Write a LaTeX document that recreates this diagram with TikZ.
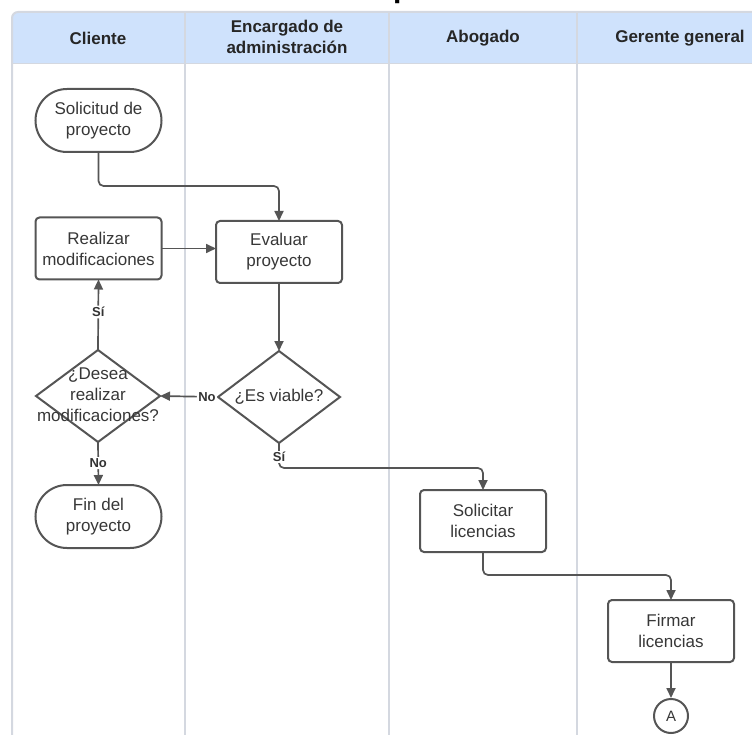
\documentclass[tikz,border=0pt]{standalone}
\usepackage{fontspec}
\setmainfont{Liberation Sans}
\usetikzlibrary{arrows.meta,shapes.geometric,shapes.misc}
\definecolor{headfill}{RGB}{207,226,252}
\definecolor{laneline}{RGB}{212,216,224}
\definecolor{ink}{RGB}{85,85,85}
\definecolor{txt}{RGB}{55,55,55}

\begin{document}
\begin{tikzpicture}[x=1pt,y=-1pt,
  every node/.style={font=\fontsize{17}{21}\selectfont, text=txt},
  procbox/.style={draw=ink, line width=2pt, rounded corners=4pt,
    minimum width=126pt, minimum height=62pt, align=center,
    inner sep=0pt, outer sep=0pt},
  termbox/.style={rounded rectangle, draw=ink, line width=2pt,
    minimum width=126pt, minimum height=63pt, align=center,
    inner sep=0pt, outer sep=0pt},
  decbox/.style={diamond, draw=ink, line width=2pt, inner sep=0pt, outer sep=0pt},
  conn/.style={draw=ink, line width=1.7pt, rounded corners=5pt,
    -{Triangle[length=10pt,width=9pt]}},
  flowlbl/.style={font=\bfseries\fontsize{13}{15}\selectfont, text=black!80,
    fill=white, inner sep=1.5pt},
  lanehead/.style={font=\bfseries\fontsize{17}{21}\selectfont, text=black!85,
    align=center},
  laneedge/.style={draw=laneline, line width=2pt}
]
\useasboundingbox (0,0) rectangle (752,735);

% title (mostly above the page)
\node[font=\bfseries\fontsize{30}{36}\selectfont, text=black, anchor=base west,
  inner sep=0pt] (title) at (393,-2) {p};

% swimlane frame and header band
\fill[headfill] (12,64) {[rounded corners=6pt] -- (12,12) -- (800,12)} -- (800,64) -- cycle;
\draw[laneedge] (12,760) {[rounded corners=6pt] -- (12,12)} -- (800,12);
\draw[draw=laneline, line width=1pt] (12,64) -- (800,64);
\foreach \x in {185,389,577} \draw[laneedge] (\x,12) -- (\x,760);

\node[lanehead] (hcli) at (98,38) {Cliente};
\node[lanehead] (hadm) at (287,37) {Encargado de\\administración};
\node[lanehead] (habo) at (483,38) {Abogado};
\node[lanehead] (hger) at (680,38) {Gerente general};

% process steps
\node[termbox] (start) at (98.5,120.5) {Solicitud de\\proyecto};
\node[procbox] (modif) at (98.5,248.5) {Realizar\\modificaciones};
\node[procbox] (eval) at (279,252) {Evaluar\\proyecto};
\node[decbox, minimum width=122pt, minimum height=92pt] (viable) at (279,397) {};
\node (viabletxt) at (279,397) {¿Es viable?};
\node[decbox, minimum width=124pt, minimum height=92pt] (desea) at (98,396) {};
\node[align=center] (deseatxt) at (98,395) {¿Desea\\realizar\\modificaciones?};
\node[termbox] (fin) at (98.5,516.5) {Fin del\\proyecto};
\node[procbox] (solic) at (483,521) {Solicitar\\licencias};
\node[procbox] (firmar) at (671,631) {Firmar\\licencias};
\node[circle, draw=ink, line width=2pt, minimum size=34pt, inner sep=0pt,
  font=\fontsize{15}{18}\selectfont] (conA) at (671,716) {A};

% connectors
\draw[conn] (start.south) -- ++(0,34) -| (eval.north);
\draw[conn] (modif.east) -- (modif.east -| eval.west);
\draw[conn] (eval.south) -- (viable.north);
\draw[conn] (viable.west) -- node[flowlbl, pos=0.19] (lblno1) {No} (desea.east);
\draw[conn] (desea.north) -- node[flowlbl, pos=0.54] (lblsi1) {Sí} (modif.south);
\draw[conn] (desea.south) -- node[flowlbl, pos=0.49] (lblno2) {No} (fin.north);
\draw[conn] (viable.south) -- ++(0,25) -| (solic.north);
\node[flowlbl] (lblsi2) at (279,457) {Sí};
\draw[conn] (solic.south) -- ++(0,23) -| (firmar.north);
\draw[conn] (firmar.south) -- (conA.north);
\end{tikzpicture}
\end{document}
